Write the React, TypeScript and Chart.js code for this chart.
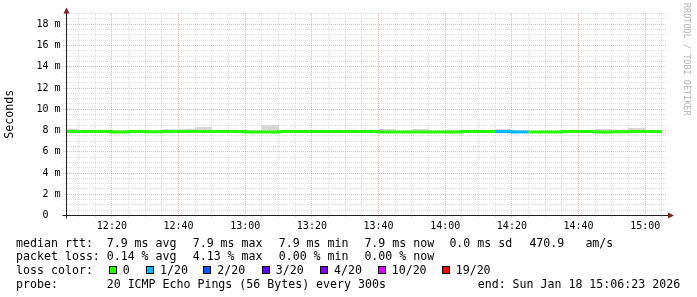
import React, { useEffect, useRef } from 'react';
import { Chart, registerables } from 'chart.js';

Chart.register(...registerables);

// ---------- data ----------
const viewStart = '12:06:23';
const viewEnd = '15:06:23';
const stepTimes = [
  '12:05', '12:10', '12:15', '12:20', '12:25', '12:30', '12:35', '12:40', '12:45',
  '12:50', '12:55', '13:00', '13:05', '13:10', '13:15', '13:20', '13:25', '13:30',
  '13:35', '13:40', '13:45', '13:50', '13:55', '14:00', '14:05', '14:10', '14:15',
  '14:20', '14:25', '14:30', '14:35', '14:40', '14:45', '14:50', '14:55', '15:00',
];
const lastStepEnd = '15:05';
// median rtt (ms)
const medianRtt = [
  7.91, 7.91, 7.91, 7.91, 7.85, 7.91, 7.88, 7.9, 7.9,
  7.9, 7.91, 7.91, 7.87, 7.85, 7.91, 7.91, 7.91, 7.91,
  7.91, 7.91, 7.85, 7.86, 7.85, 7.86, 7.87, 7.91, 7.91,
  7.91, 7.85, 7.85, 7.85, 7.91, 7.91, 7.86, 7.88, 7.91,
];
// smoke (ping spread) upper / lower edge (ms)
const smokeHigh = [
  8.14, 8.0, 8.0, 8.0, 7.95, 8.0, 8.08, 8.14, 8.3,
  8.05, 8.0, 8.0, 8.49, 7.95, 8.0, 8.0, 8.0, 8.0,
  8.0, 8.12, 7.95, 8.12, 7.95, 8.05, 8.0, 8.0, 8.12,
  8.02, 7.95, 7.95, 7.95, 8.0, 8.12, 8.05, 8.2, 8.0,
];
const smokeLow = [
  7.84, 7.85, 7.85, 7.84, 7.8, 7.85, 7.83, 7.84, 7.83,
  7.84, 7.85, 7.85, 7.82, 7.8, 7.85, 7.85, 7.84, 7.85,
  7.85, 7.84, 7.8, 7.81, 7.8, 7.81, 7.82, 7.85, 7.84,
  7.84, 7.8, 7.8, 7.8, 7.85, 7.84, 7.81, 7.82, 7.85,
];
// lost pings out of 20 per step
const lostPings = [
  0, 0, 0, 0, 0, 0, 0, 0, 0,
  0, 0, 0, 0, 0, 0, 0, 0, 0,
  0, 0, 0, 0, 0, 0, 0, 0, 1,
  1, 0, 0, 0, 0, 0, 0, 0, 0,
];
const lossLevels = [0, 1, 2, 3, 4, 10, 19];
const lossLabels = ['0', '1/20', '2/20', '3/20', '4/20', '10/20', '19/20'];
const lossColors = ['#26ff00', '#00b8ff', '#0059ff', '#5e00ff', '#7e00ff', '#dd00ff', '#ff0000'];

const rttStats = ['7.9', '7.9', '7.9', '7.9', '0.0']; // avg max min now sd
const rttStatNames = ['avg', 'max', 'min', 'now', 'sd'];
const amPerSec = '470.9';
const lossStats = ['0.14', '4.13', '0.00', '0.00']; // avg max min now
const lossStatNames = ['avg', 'max', 'min', 'now'];
const probeText = '20 ICMP Echo Pings (56 Bytes) every 300s';
const endText = 'end: Sun Jan 18 15:06:23 2026';

const yMax = 19.06;

// ---------- helpers ----------
const toMin = (s: string) => {
  const p = s.split(':').map(Number);
  return (p[0] - 12) * 60 + p[1] + (p[2] || 0) / 60;
};
const fmtTime = (m: number) => {
  const h = 12 + Math.floor(m / 60);
  const mm = Math.round(m % 60);
  return `${h}:${mm < 10 ? '0' : ''}${mm}`;
};
const colorForLoss = (n: number) => {
  let idx = 0;
  lossLevels.forEach((lv, i) => { if (n >= lv) idx = i; });
  return lossColors[idx];
};

const MONO = "'DejaVu Sans Mono', monospace";
const GRID_MINOR = 'rgba(143,143,143,0.3)';
const GRID_MAJOR = 'rgba(222,79,79,0.42)';

const rrdAxes = {
  id: 'rrdAxes',
  afterDraw(chart: any) {
    const { ctx, chartArea: a } = chart;
    const ax = Math.round(a.left - 0.5) + 0.5;
    const ay = Math.round(a.bottom - 0.5) + 0.5;
    ctx.save();
    ctx.strokeStyle = '#1f1f1f';
    ctx.lineWidth = 1;
    ctx.beginPath();
    ctx.moveTo(ax - 4, ay);
    ctx.lineTo(a.right + 2, ay);
    ctx.moveTo(ax, ay + 3);
    ctx.lineTo(ax, a.top - 1);
    ctx.stroke();
    ctx.fillStyle = '#7f1f1f';
    ctx.beginPath();
    ctx.moveTo(ax, a.top - 5.5);
    ctx.lineTo(ax - 3, a.top + 0.5);
    ctx.lineTo(ax + 3, a.top + 0.5);
    ctx.closePath();
    ctx.fill();
    ctx.beginPath();
    ctx.moveTo(a.right + 7.5, ay);
    ctx.lineTo(a.right + 1.5, ay - 3);
    ctx.lineTo(a.right + 1.5, ay + 3);
    ctx.closePath();
    ctx.fill();
    ctx.restore();
  },
};

export default function App() {
  const ref = useRef<HTMLCanvasElement>(null);

  useEffect(() => {
    document.body.style.margin = '0';
    const xs = stepTimes.map(toMin);
    const endX = toMin(lastStepEnd);
    const linePts = xs.map((x, i) => ({ x, y: medianRtt[i] }));
    linePts.push({ x: endX, y: medianRtt[medianRtt.length - 1] });
    const smokePts = xs.map((x, i) => ({ x: x + 2.5, y: [smokeLow[i], smokeHigh[i]] }));

    const xMin = toMin(viewStart);
    const xMax = toMin(viewEnd);
    const xTicks: number[] = [];
    for (let t = Math.ceil(xMin / 5) * 5; t <= xMax; t += 5) xTicks.push(t);
    const yTicks: number[] = [];
    for (let v = 0; v <= yMax; v += 0.5) yTicks.push(v);

    const chart = new Chart(ref.current as HTMLCanvasElement, {
      type: 'line',
      data: {
        datasets: [
          {
            type: 'line',
            data: linePts as any,
            stepped: 'after',
            borderWidth: 3,
            borderColor: lossColors[0],
            borderCapStyle: 'butt',
            pointRadius: 0,
            clip: 0,
            order: 0,
            segment: {
              borderColor: (c: any) => colorForLoss(lostPings[c.p0DataIndex] ?? 0),
            },
          } as any,
          {
            type: 'bar',
            data: smokePts as any,
            backgroundColor: '#d6d6d6',
            borderWidth: 0,
            barPercentage: 1,
            categoryPercentage: 1,
            grouped: false,
            order: 1,
          } as any,
        ],
      },
      options: {
        responsive: false,
        animation: false,
        devicePixelRatio: 1,
        layout: { padding: { top: 13, right: 30.5, left: 0, bottom: 0 } },
        plugins: { legend: { display: false }, tooltip: { enabled: false } },
        scales: {
          x: {
            type: 'linear',
            min: xMin,
            max: xMax,
            offset: false,
            afterBuildTicks: (s: any) => { s.ticks = xTicks.map((v) => ({ value: v })); },
            afterFit: (s: any) => { s.height = 81.5; },
            grid: {
              offset: false,
              color: (c: any) => (c.tick && c.tick.value % 20 === 0 ? GRID_MAJOR : GRID_MINOR),
              tickColor: (c: any) => (c.tick && c.tick.value % 20 === 0 ? GRID_MAJOR : GRID_MINOR),
              tickLength: 3,
              tickBorderDash: [1, 1],
              lineWidth: 1,
            },
            border: { display: false, dash: [1, 1] },
            ticks: {
              autoSkip: false,
              maxRotation: 0,
              padding: 2,
              color: '#000',
              font: { family: MONO, size: 10 },
              callback: (v: any) => (Number(v) % 20 === 0 ? fmtTime(Number(v)) : ''),
            },
          },
          y: {
            type: 'linear',
            min: 0,
            max: yMax,
            afterBuildTicks: (s: any) => { s.ticks = yTicks.map((v) => ({ value: v })); },
            afterFit: (s: any) => { s.width = 66.5; },
            grid: {
              color: (c: any) => (c.tick && c.tick.value % 2 === 0 ? GRID_MAJOR : GRID_MINOR),
              tickColor: (c: any) => (c.tick && c.tick.value % 2 === 0 ? GRID_MAJOR : GRID_MINOR),
              tickLength: 3,
              tickBorderDash: [1, 1],
              lineWidth: 1,
            },
            border: { display: false, dash: [1, 1] },
            ticks: {
              autoSkip: false,
              padding: 3,
              color: '#000',
              font: { family: MONO, size: 10 },
              callback: (v: any) => {
                const n = Number(v);
                if (n % 2 !== 0) return '';
                return n === 0 ? '0  ' : `${n} m`;
              },
            },
            title: {
              display: true,
              text: 'Seconds',
              color: '#000',
              font: { family: MONO, size: 11.6 },
              padding: { top: 3.5, bottom: 0 },
            },
          },
        },
      } as any,
      plugins: [rrdAxes],
    });
    return () => chart.destroy();
  }, []);

  const txt = (text: string, x: number, baseline: number, key: string) => (
    <div
      key={key}
      style={{
        position: 'absolute',
        left: x - 0.6,
        top: baseline - 11,
        fontFamily: MONO,
        fontSize: '11.6px',
        lineHeight: '14px',
        whiteSpace: 'pre',
        color: '#000',
      }}
    >
      {text}
    </div>
  );

  const rows = [246.7, 260.3, 274, 287.7];
  const statX = [107.3, 193.3, 279.3, 365, 450];
  const boxX = [108.7, 146, 203.3, 261.7, 320, 377.7, 441.7];

  return (
    <div style={{ position: 'fixed', left: 0, top: 0, width: 697, height: 297, background: '#fff', overflow: 'hidden' }}>
      <canvas ref={ref} width={697} height={297} style={{ position: 'absolute', left: 0, top: 0, width: 697, height: 297 }} />
      {txt('median rtt:', 16.7, rows[0], 'r0')}
      {rttStats.map((s, i) => txt(`${s} ms ${rttStatNames[i]}`, statX[i], rows[0], 'rs' + i))}
      {txt(amPerSec, 530, rows[0], 'am')}
      {txt('am/s', 586, rows[0], 'ams')}
      {txt('packet loss:', 16.7, rows[1], 'r1')}
      {lossStats.map((s, i) => txt(`${s} % ${lossStatNames[i]}`, statX[i], rows[1], 'ls' + i))}
      {txt('loss color:', 16.7, rows[2], 'r2')}
      {lossLabels.map((l, i) => (
        <React.Fragment key={'lc' + i}>
          <div
            style={{
              position: 'absolute',
              left: boxX[i],
              top: 265.5,
              width: 8,
              height: 8,
              boxSizing: 'border-box',
              border: '1px solid #000',
              background: lossColors[i],
            }}
          />
          {txt(l, boxX[i] + 14.6, rows[2], 'lt' + i)}
        </React.Fragment>
      ))}
      {txt('probe:', 16.7, rows[3], 'r3')}
      {txt(probeText, 107.3, rows[3], 'pt')}
      {txt(endText, 478.3, rows[3], 'et')}
      <div
        style={{
          position: 'absolute',
          left: 692,
          top: 3,
          transformOrigin: '0 0',
          transform: 'rotate(90deg)',
          fontFamily: MONO,
          fontSize: '8.5px',
          lineHeight: '10px',
          whiteSpace: 'pre',
          color: '#b4b4b4',
        }}
      >
        RRDTOOL / TOBI OETIKER
      </div>
    </div>
  );
}
